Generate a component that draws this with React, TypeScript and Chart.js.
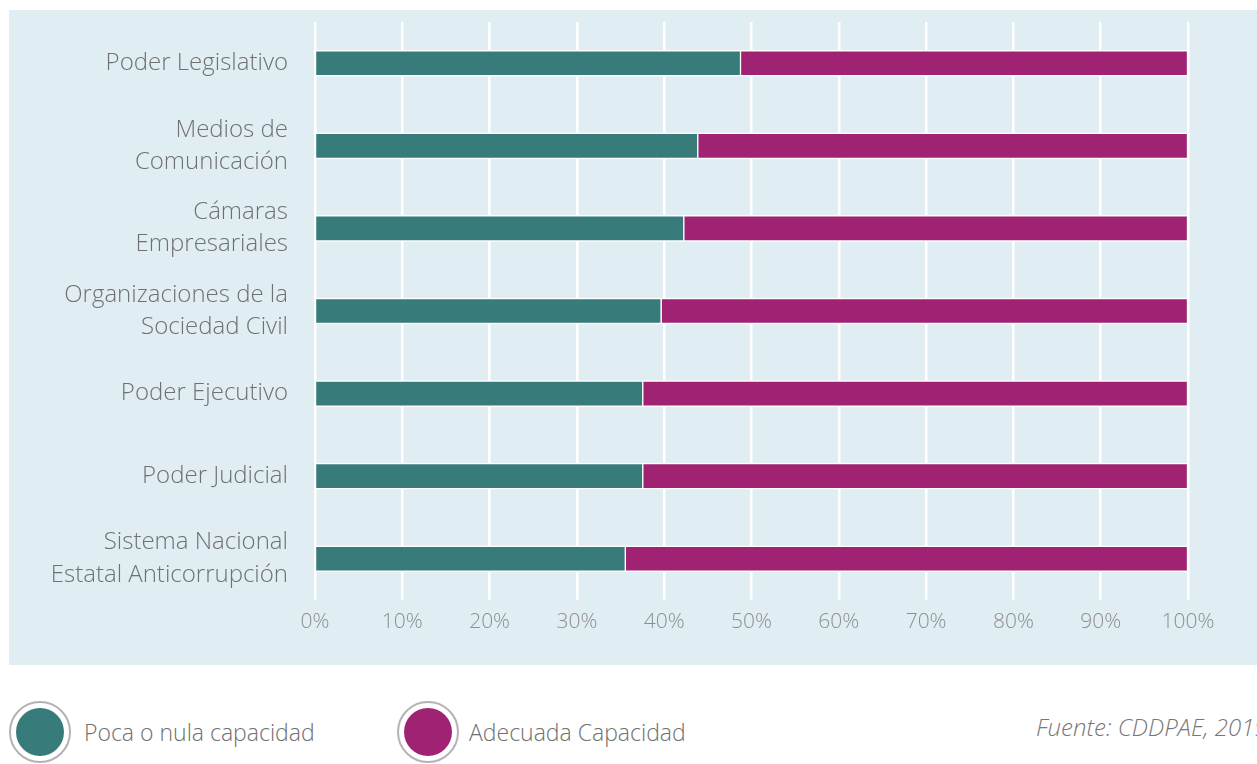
import React, { useEffect, useRef } from "react";
import { Chart, registerables } from "chart.js";

Chart.register(...registerables);

const categories: (string | string[])[] = [
  "Poder Legislativo",
  ["Medios de", "Comunicación"],
  ["Cámaras", "Empresariales"],
  ["Organizaciones de la", "Sociedad Civil"],
  "Poder Ejecutivo",
  "Poder Judicial",
  ["Sistema Nacional", "Estatal Anticorrupción"],
];
const pocaNula = [48.8, 43.9, 42.3, 39.7, 37.6, 37.6, 35.6];
const adecuada = [51.2, 56.1, 57.7, 60.3, 62.4, 62.4, 64.4];
const seriesNames = ["Poca o nula capacidad", "Adecuada Capacidad"];
const xTicks = [0, 10, 20, 30, 40, 50, 60, 70, 80, 90, 100];
const source = "Fuente: CDDPAE, 2019";

const TEAL = "#377b7b";
const MAGENTA = "#a02273";
const FONT = "'Open Sans', 'Noto Sans', sans-serif";

function LegendDot({ color }: { color: string }) {
  return (
    <div
      style={{
        width: 58,
        height: 58,
        borderRadius: "50%",
        border: "2px solid #b3b3b5",
        display: "flex",
        alignItems: "center",
        justifyContent: "center",
        background: "#fff",
        flex: "none",
      }}
    >
      <div style={{ width: 48, height: 48, borderRadius: "50%", background: color }} />
    </div>
  );
}

export default function App() {
  const ref = useRef<HTMLCanvasElement>(null);

  useEffect(() => {
    if (!ref.current) return;
    const chart = new Chart(ref.current, {
      type: "bar",
      data: {
        labels: categories,
        datasets: [
          {
            label: seriesNames[0],
            data: pocaNula,
            backgroundColor: TEAL,
            borderColor: "#ffffff",
            borderWidth: 1.5,
            barThickness: 26,
          },
          {
            label: seriesNames[1],
            data: adecuada,
            backgroundColor: MAGENTA,
            borderColor: "#ffffff",
            borderWidth: 1.5,
            barThickness: 26,
          },
        ],
      },
      options: {
        indexAxis: "y",
        animation: false,
        responsive: false,
        maintainAspectRatio: false,
        layout: { padding: { top: 12, right: 69, left: 0, bottom: 0 } },
        plugins: { legend: { display: false }, tooltip: { enabled: false } },
        scales: {
          x: {
            stacked: true,
            min: 0,
            max: 100,
            afterBuildTicks: (scale: any) => {
              scale.ticks = xTicks.map((v) => ({ value: v }));
            },
            afterFit: (scale: any) => {
              scale.height = 65;
              scale.paddingLeft = 0;
              scale.paddingRight = 0;
            },
            grid: { color: "#ffffff", lineWidth: 2.5, drawTicks: false },
            border: { display: false },
            ticks: {
              padding: 9,
              color: "#8e8e8e",
              font: { family: FONT, size: 21, weight: 300 as any },
              callback: (v: any) => v + "%",
            },
          },
          y: {
            stacked: true,
            afterFit: (scale: any) => {
              scale.width = 306;
              scale.paddingTop = 0;
              scale.paddingBottom = 0;
            },
            grid: { display: false, drawTicks: false },
            border: { display: false },
            ticks: {
              padding: 27,
              color: "#707070",
              font: { family: FONT, size: 24, weight: 300 as any, lineHeight: 1.35 },
            },
          },
        },
      },
    });
    return () => chart.destroy();
  }, []);

  return (
    <div
      style={{
        position: "fixed",
        left: 0,
        top: 0,
        width: 1257,
        height: 764,
        overflow: "hidden",
        background: "#fff",
        fontFamily: FONT,
      }}
    >
      <div
        style={{
          position: "absolute",
          left: 9,
          top: 10,
          width: 1248,
          height: 655,
          background: "#e0eef3",
        }}
      >
        <canvas ref={ref} width={1248} height={655} style={{ width: 1248, height: 655, display: "block" }} />
      </div>
      <div
        style={{
          position: "absolute",
          left: 9,
          top: 701,
          display: "flex",
          alignItems: "center",
          gap: 13,
          color: "#707070",
          fontSize: 23,
          fontWeight: 300,
        }}
      >
        <LegendDot color={TEAL} />
        <span>{seriesNames[0]}</span>
      </div>
      <div
        style={{
          position: "absolute",
          left: 397,
          top: 701,
          display: "flex",
          alignItems: "center",
          gap: 10,
          color: "#707070",
          fontSize: 23,
          fontWeight: 300,
        }}
      >
        <LegendDot color={MAGENTA} />
        <span>{seriesNames[1]}</span>
      </div>
      <div
        style={{
          position: "absolute",
          left: 1036,
          top: 710,
          whiteSpace: "nowrap",
          fontStyle: "italic",
          color: "#777",
          fontSize: 24,
          fontWeight: 300,
        }}
      >
        {source}
      </div>
    </div>
  );
}
